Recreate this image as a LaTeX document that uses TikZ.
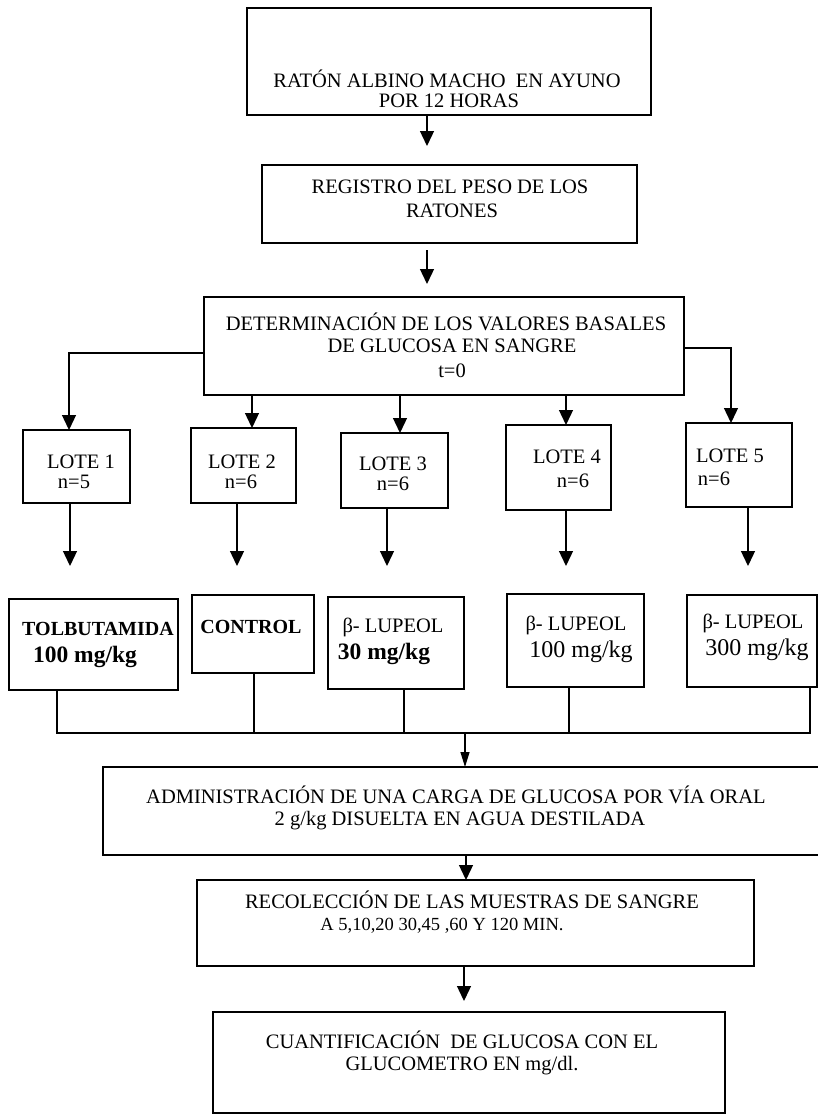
\documentclass[tikz,border=0pt]{standalone}
\usepackage{fontspec}
\setmainfont{Liberation Serif}
\usetikzlibrary{arrows.meta}
\newcommand\mkbox[6][box]{\node[#1, minimum width={(#4-#2)*1pt}, minimum height={(#5-#3)*1pt}] (#6) at ({(#2+#4)/2},{(#3+#5)/2}) {};}
\begin{document}
\begin{tikzpicture}[x=1pt,y=-1pt,
  box/.style={draw, line width=1.4pt, rectangle, inner sep=0pt, outer sep=0pt},
  tbox/.style={draw, line width=2.6pt, rectangle, inner sep=0pt, outer sep=0pt},
  tx/.style={inner sep=0pt, anchor=base, font=\fontsize{20.5}{22}\selectfont},
  txs/.style={inner sep=0pt, anchor=base, font=\fontsize{18.5}{20}\selectfont},
  tbf/.style={inner sep=0pt, anchor=base, font=\fontsize{20}{22}\selectfont\bfseries},
  tb/.style={inner sep=0pt, anchor=base, font=\fontsize{24}{26}\selectfont},
  tbb/.style={inner sep=0pt, anchor=base, font=\fontsize{23.5}{26}\selectfont\bfseries},
  ln/.style={line width=1.3pt},
  arr/.style={line width=1.3pt, -{Triangle[width=14pt,length=15pt]}},
  narr/.style={line width=1.2pt, -{Triangle[width=9pt,length=15pt]}}]
\useasboundingbox (0,0) rectangle (818,1117);
\clip (0,0) rectangle (818,1117);
\fill[white] (0,0) rectangle (818,1117);

% boxes
\mkbox{247}{8}{651}{115}{b1}
\mkbox{262}{165}{637}{243}{b2}
\mkbox{204}{297}{684}{395}{b3}
\mkbox{23}{430}{130}{503}{l1}
\mkbox{191}{428}{296}{503}{l2}
\mkbox{341}{433}{448}{508}{l3}
\mkbox{506}{425}{611}{510}{l4}
\mkbox{686}{423}{792}{507}{l5}
\mkbox[tbox]{9}{599}{178}{690}{m1}
\mkbox[tbox]{192}{595}{314}{673}{m2}
\mkbox[tbox]{328}{597}{464}{689}{m3}
\mkbox[tbox]{507}{594}{644}{687}{m4}
\mkbox[tbox]{687}{595}{817}{687}{m5}
\mkbox{103}{767}{840}{855}{adm}
\mkbox{197}{880}{754}{966}{rec}
\mkbox{213}{1012}{725}{1113}{cu}

% texts
\node[tx] (t1a) at (447,87) {RATÓN ALBINO MACHO\ \ EN AYUNO};
\node[tx] (t1b) at (449,107) {POR 12 HORAS};
\node[tx] (t2a) at (450,193) {REGISTRO DEL PESO DE LOS};
\node[tx] (t2b) at (452,217) {RATONES};
\node[tx] (t3a) at (446,330) {DETERMINACIÓN DE LOS VALORES BASALES};
\node[tx] (t3b) at (452,352) {DE GLUCOSA EN SANGRE};
\node[tx] (t3c) at (452,377) {t=0};

\node[tx] (l1a) at (81,468) {LOTE 1};
\node[tx] (l1b) at (74,488) {n=5};
\node[tx] (l2a) at (242,468) {LOTE 2};
\node[tx] (l2b) at (241,488) {n=6};
\node[tx] (l3a) at (393,470) {LOTE 3};
\node[tx] (l3b) at (393,490) {n=6};
\node[tx] (l4a) at (567,463) {LOTE 4};
\node[tx] (l4b) at (573,487) {n=6};
\node[tx] (l5a) at (730,462) {LOTE 5};
\node[tx] (l5b) at (714,485) {n=6};

\node[tbf] (m1a) at (98,635) {TOLBUTAMIDA};
\node[tbb] (m1b) at (85,662) {100 mg/kg};
\node[tbf] (m2a) at (251,633) {CONTROL};
\node[tx] (m3a) at (393,632) {β- LUPEOL};
\node[tbb] (m3b) at (384,659) {30 mg/kg};
\node[tx] (m4a) at (576,630) {β- LUPEOL};
\node[tb] (m4b) at (581,657) {100 mg/kg};
\node[tx] (m5a) at (753,628) {β- LUPEOL};
\node[tb] (m5b) at (757,655) {300 mg/kg};

\node[tx] (ta) at (456,803) {ADMINISTRACIÓN DE UNA CARGA DE GLUCOSA POR VÍA ORAL};
\node[tx] (tb2) at (460,825) {2 g/kg DISUELTA EN AGUA DESTILADA};
\node[tx] (ra) at (472,908) {RECOLECCIÓN DE LAS MUESTRAS DE SANGRE};
\node[txs] (rb) at (442,930) {A 5,10,20 30,45 ,60 Y 120 MIN.};
\node[tx] (ca) at (462,1048) {CUANTIFICACIÓN\ \ DE GLUCOSA CON EL};
\node[tx] (cb) at (462,1070) {GLUCOMETRO EN mg/dl.};

% connector coordinates
\coordinate (x1) at (427,0);
\coordinate (e1) at (427,146);
\coordinate (s2) at (427,250);
\coordinate (e2) at (427,284);
\coordinate (bl) at (69,353);
\coordinate (br) at (731,348);
\coordinate (xa) at (252,0);
\coordinate (xb) at (400,0);
\coordinate (xc) at (566,0);
\coordinate (d1) at (70,566);
\coordinate (d2) at (237,566);
\coordinate (d3) at (387,566);
\coordinate (d4) at (566,566);
\coordinate (d5) at (748,566);
\coordinate (h1) at (57,733);
\coordinate (h2) at (254,733);
\coordinate (h3) at (404,733);
\coordinate (h4) at (569,733);
\coordinate (h5) at (810,733);
\coordinate (hm) at (465,733);
\coordinate (xr) at (466,0);
\coordinate (xq) at (464,0);
\coordinate (e9) at (464,1001);

% arrows
\draw[arr] (b1.south -| x1) -- (e1);
\draw[arr] (s2) -- (e2);
\draw[arr] (b3.west |- bl) -- (bl) -- (l1.north -| bl);
\draw[arr] (b3.east |- br) -- (br) -- (l5.north -| br);
\draw[arr] (b3.south -| xa) -- (l2.north -| xa);
\draw[arr] (b3.south -| xb) -- (l3.north -| xb);
\draw[arr] (b3.south -| xc) -- (l4.north -| xc);
\draw[arr] (l1.south -| d1) -- (d1);
\draw[arr] (l2.south -| d2) -- (d2);
\draw[arr] (l3.south -| d3) -- (d3);
\draw[arr] (l4.south -| d4) -- (d4);
\draw[arr] (l5.south -| d5) -- (d5);
\draw[ln] (m1.south -| h1) -- (h1) -- (h5) -- (m5.south -| h5);
\draw[ln] (m2.south -| h2) -- (h2);
\draw[ln] (m3.south -| h3) -- (h3);
\draw[ln] (m4.south -| h4) -- (h4);
\draw[narr] (hm) -- (adm.north -| hm);
\draw[arr] (adm.south -| xr) -- (rec.north -| xr);
\draw[arr] (rec.south -| xq) -- (e9);
\end{tikzpicture}
\end{document}
